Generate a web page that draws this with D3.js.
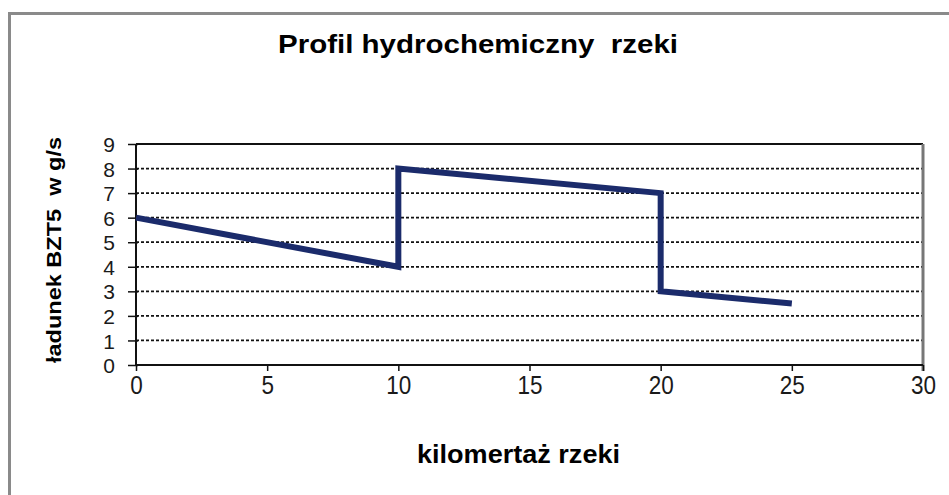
<!DOCTYPE html>
<html>
<head>
<meta charset="utf-8">
<script src="https://cdn.jsdelivr.net/npm/d3@7"></script>
<style>
  body { margin: 0; background: #fff; }
  svg text { font-family: "Liberation Sans", Arial, sans-serif; white-space: pre; }
</style>
</head>
<body>
<svg id="chart" width="949" height="495"></svg>
<script>
const width = 949, height = 495;

// data
const km = [0, 10, 10, 20, 20, 25];
const load = [6, 4, 8, 7, 3, 2.5];
const xTicks = [0, 5, 10, 15, 20, 25, 30];
const yTicks = [0, 1, 2, 3, 4, 5, 6, 7, 8, 9];

const titleText = "Profil hydrochemiczny  rzeki";
const xLabel = "kilomertaż rzeki";
const yLabel = "ładunek BZT5  w g/s";

const margin = {left: 136, right: 26, top: 144, bottom: 130};

const svg = d3.select("#chart");

// squeeze / stretch a text to a given width
const fitWidth = (sel, factor) => {
    sel.each(function() {
        let w = this.getComputedTextLength();
        d3.select(this).attr("textLength", w * factor).attr("lengthAdjust", "spacingAndGlyphs");
    });
};

// outer chart frame (only top and left visible)
svg.append("path")
    .attr("d", `M9.5,${height} V13.5 H${width}`)
    .attr("fill", "none")
    .attr("stroke", "#8a8a8a")
    .attr("stroke-width", 3);

const x = d3.scaleLinear().domain([0, 30]).range([margin.left, width - margin.right]);
const y = d3.scaleLinear().domain([0, 9]).range([height - margin.bottom, margin.top]);

// dashed grid
svg.append("g")
    .selectAll("line")
    .data(yTicks.filter(d => d > 0 && d < 9))
    .join("line")
    .attr("x1", x(0)).attr("x2", x(30))
    .attr("y1", d => y(d)).attr("y2", d => y(d))
    .attr("stroke", "#111")
    .attr("stroke-width", 1.8)
    .attr("stroke-dasharray", "3,2");

// top and right border of plot
svg.append("line")
    .attr("x1", x(0)).attr("x2", x(30))
    .attr("y1", y(9)).attr("y2", y(9))
    .attr("stroke", "#111").attr("stroke-width", 1.8);
svg.append("line")
    .attr("x1", x(30)).attr("x2", x(30))
    .attr("y1", y(9)).attr("y2", y(0) + 6)
    .attr("stroke", "#777").attr("stroke-width", 3);

// axes
const xAxis = svg.append("g")
    .attr("transform", `translate(0,${y(0)})`)
    .call(d3.axisBottom(x).tickValues(xTicks).tickSize(6).tickPadding(2));
const yAxis = svg.append("g")
    .attr("transform", `translate(${x(0)},0)`)
    .call(d3.axisLeft(y).tickValues(yTicks).tickSize(8).tickPadding(13));

[xAxis, yAxis].forEach(g => {
    g.select(".domain").attr("stroke", "#111").attr("stroke-width", 2);
    g.selectAll(".tick line").attr("stroke", "#111").attr("stroke-width", 1.5);
    g.selectAll(".tick text").attr("fill", "#1a1a1a");
});
xAxis.selectAll(".tick text").style("font-size", "25px").attr("dy", "0.85em");
yAxis.selectAll(".tick text").style("font-size", "21px").attr("dy", "0.36em").attr("x", -21);
yAxis.selectAll(".tick line").attr("x2", -8).attr("x1", 2);
xAxis.select(".domain").attr("d", `M${x(0)},0H${x(30)}`);
yAxis.select(".domain").attr("d", `M0,${y(0)}V${y(9)}`);
fitWidth(xAxis.selectAll(".tick text"), 0.9);

// series line
const line = d3.line()
    .x((d, i) => x(km[i]))
    .y(d => y(d));

svg.append("path")
    .datum(load)
    .attr("d", line)
    .attr("fill", "none")
    .attr("stroke", "#1b2b6b")
    .attr("stroke-width", 6)
    .attr("stroke-linejoin", "miter");

// texts
svg.append("text")
    .attr("x", 278).attr("y", 53)
    .style("font-size", "25px").style("font-weight", "bold")
    .attr("textLength", 400).attr("lengthAdjust", "spacingAndGlyphs")
    .text(titleText);

svg.append("text")
    .attr("x", 417).attr("y", 463)
    .style("font-size", "25px").style("font-weight", "bold")
    .attr("textLength", 203).attr("lengthAdjust", "spacingAndGlyphs")
    .text(xLabel);

svg.append("text")
    .attr("transform", `translate(61,${363}) rotate(-90)`)
    .style("font-size", "20px").style("font-weight", "bold")
    .attr("textLength", 226).attr("lengthAdjust", "spacingAndGlyphs")
    .text(yLabel);
</script>
</body>
</html>
